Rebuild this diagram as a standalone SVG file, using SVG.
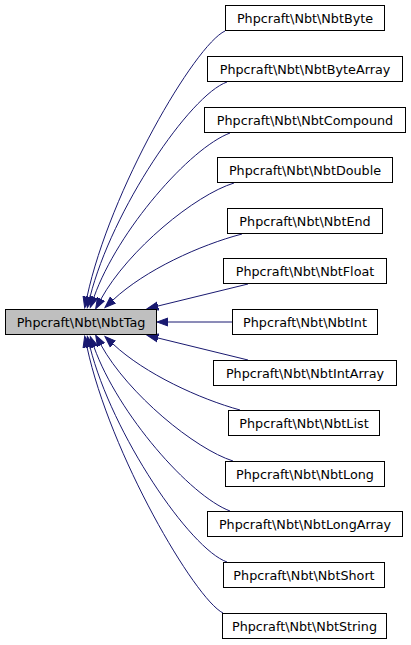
<svg xmlns="http://www.w3.org/2000/svg" width="411" height="645" viewBox="0 0 411 645">
<style>
.n rect{fill:#ffffff;stroke:#000000;stroke-width:1}
#NbtTag rect{fill:#bfbfbf;stroke:#000000}
text{font-family:"DejaVu Sans",sans-serif;font-size:12.75px;text-anchor:middle;fill:#000000}
#edges path{fill:none;stroke:#191970;stroke-width:1;marker-end:url(#ah)}
</style>
<defs>
<marker id="ah" markerUnits="userSpaceOnUse" markerWidth="13" markerHeight="10" viewBox="0 -5 13 10" refX="0" refY="0" orient="auto">
<path d="M0,-4 L11,0 L0,4 Z" fill="#191970" stroke="#191970" stroke-width="1"/>
</marker>
</defs>
<rect width="411" height="645" fill="#ffffff"/>
<g id="edges">
<path d="M225,31 C195,45 110,190 87,297"/>
<path d="M227,82 C190,95 112,210 90,297"/>
<path d="M230,133 C190,148 118,230 94,297"/>
<path d="M234,183 C195,195 128,250 101,299"/>
<path d="M242,234 C200,245 145,270 113,300"/>
<path d="M248,284 L158,306"/>
<path d="M232,322 L168,322"/>
<path d="M248,360 L158,338"/>
<path d="M240,410 C200,399 145,374 113,344"/>
<path d="M233,461 C195,449 128,394 101,345"/>
<path d="M230,511 C190,496 118,414 94,347"/>
<path d="M227,562 C190,549 112,434 90,347"/>
<path d="M223,613 C195,599 110,454 87,347"/>
</g>
<g id="NbtTag"><rect x="5.5" y="309.5" width="151" height="25"/><text x="81" y="326.8">Phpcraft\Nbt\NbtTag</text></g>
<g id="NbtByte" class="n"><rect x="225.5" y="5.5" width="159" height="25"/><text x="305" y="22.8">Phpcraft\Nbt\NbtByte</text></g>
<g id="NbtByteArray" class="n"><rect x="207.5" y="56.5" width="195" height="25"/><text x="305" y="73.8">Phpcraft\Nbt\NbtByteArray</text></g>
<g id="NbtCompound" class="n"><rect x="204.5" y="107.5" width="201" height="25"/><text x="305" y="124.8">Phpcraft\Nbt\NbtCompound</text></g>
<g id="NbtDouble" class="n"><rect x="217.5" y="157.5" width="175" height="25"/><text x="305" y="174.8">Phpcraft\Nbt\NbtDouble</text></g>
<g id="NbtEnd" class="n"><rect x="227.5" y="208.5" width="155" height="25"/><text x="305" y="225.8">Phpcraft\Nbt\NbtEnd</text></g>
<g id="NbtFloat" class="n"><rect x="223.5" y="258.5" width="163" height="25"/><text x="305" y="275.8">Phpcraft\Nbt\NbtFloat</text></g>
<g id="NbtInt" class="n"><rect x="232.5" y="309.5" width="145" height="25"/><text x="305" y="326.8">Phpcraft\Nbt\NbtInt</text></g>
<g id="NbtIntArray" class="n"><rect x="213.5" y="360.5" width="183" height="25"/><text x="305" y="377.8">Phpcraft\Nbt\NbtIntArray</text></g>
<g id="NbtList" class="n"><rect x="228.5" y="410.5" width="151" height="25"/><text x="304" y="427.8">Phpcraft\Nbt\NbtList</text></g>
<g id="NbtLong" class="n"><rect x="225.5" y="461.5" width="159" height="25"/><text x="305" y="478.8">Phpcraft\Nbt\NbtLong</text></g>
<g id="NbtLongArray" class="n"><rect x="207.5" y="511.5" width="195" height="25"/><text x="305" y="528.8">Phpcraft\Nbt\NbtLongArray</text></g>
<g id="NbtShort" class="n"><rect x="223.5" y="562.5" width="161" height="25"/><text x="304" y="579.8">Phpcraft\Nbt\NbtShort</text></g>
<g id="NbtString" class="n"><rect x="222.5" y="613.5" width="164" height="25"/><text x="304.5" y="630.8">Phpcraft\Nbt\NbtString</text></g>
</svg>
